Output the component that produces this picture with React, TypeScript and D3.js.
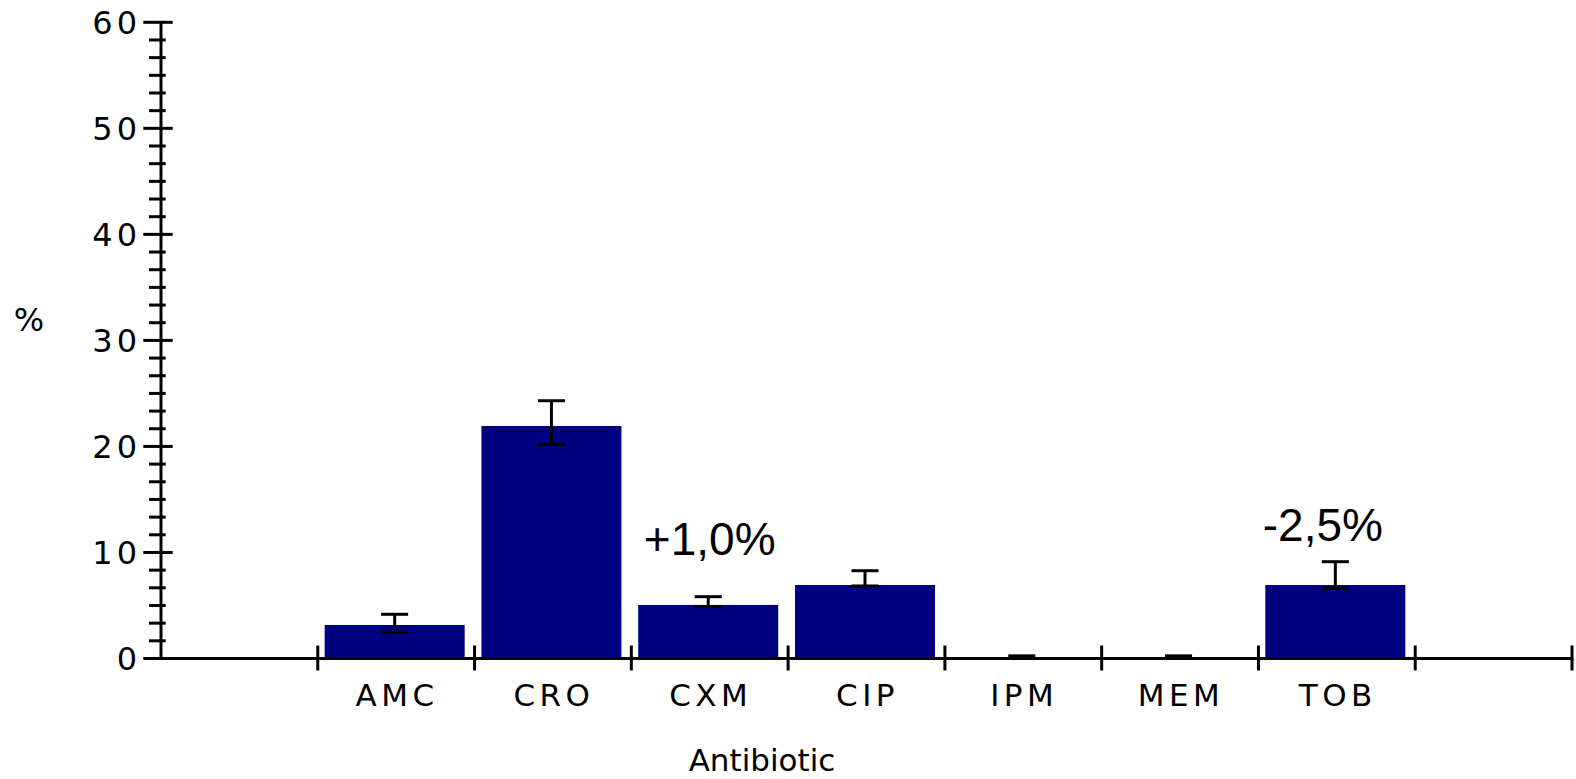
import React from "react";
import * as d3 from "d3";

const categories = ["AMC", "CRO", "CXM", "CIP", "IPM", "MEM", "TOB"];
const values = [3.16, 21.93, 5.05, 6.93, 0, 0, 6.93];
const ciLow = [2.47, 20.2, 4.89, 6.84, 0, 0, 6.62];
const ciHigh = [4.17, 24.31, 5.83, 8.28, 0.25, 0.25, 9.13];
const yMajorTicks = [0, 10, 20, 30, 40, 50, 60];
const annotations = [
  { cat: "CXM", text: "+1,0%", dx: 0, dy: 0 },
  { cat: "TOB", text: "-2,5%", dx: -14, dy: -14.5 },
];
const slotDomain = ["_pre", ...categories, "_post"];

const W = 1576;
const H = 779;
const plotLeft = 161;
const plotRight = 1572;
const yZero = 658.5;
const yTop = 22.3;
const NAVY = "#000080";
const axisFont = "'DejaVu Sans', sans-serif";

export default function App() {
  const x = d3.scaleBand<string>().domain(slotDomain).range([plotLeft, plotRight]).padding(0);
  const y = d3.scaleLinear().domain([0, 60]).range([yZero, yTop]);
  const bw = x.bandwidth();
  const barW = 140;
  const barX = (c: string) => (x(c) as number) + (bw - barW) / 2 - 1.5;
  const center = (c: string) => barX(c) + barW / 2;

  const minorTicks = d3.range(0, 60.001, 10 / 6).filter(
    (v) => !yMajorTicks.some((m) => Math.abs(m - v) < 1e-6)
  );
  const xTickPositions = d3.range(1, slotDomain.length + 1).map((i) => plotLeft + i * bw);

  return (
    <svg
      width={W}
      height={H}
      style={{ position: "absolute", left: 0, top: 0, background: "#fff" }}
    >
      {/* bars */}
      {categories.map((c, i) => {
        const v = values[i];
        if (v <= 0) return null;
        return (
          <rect
            key={c}
            x={barX(c)}
            y={y(v)}
            width={barW}
            height={y(0) - y(v)}
            fill={NAVY}
          />
        );
      })}
      {/* error bars */}
      {categories.map((c, i) => {
        const cx = center(c);
        const capHalf = 13.5;
        return (
          <g key={"e" + c} stroke="#000" strokeWidth={3}>
            <line x1={cx} x2={cx} y1={y(ciLow[i])} y2={y(ciHigh[i])} />
            <line x1={cx - capHalf} x2={cx + capHalf} y1={y(ciHigh[i])} y2={y(ciHigh[i])} />
            <line x1={cx - capHalf} x2={cx + capHalf} y1={y(ciLow[i])} y2={y(ciLow[i])} />
          </g>
        );
      })}
      {/* y axis */}
      <line x1={plotLeft} x2={plotLeft} y1={y(60)} y2={y(0)} stroke="#000" strokeWidth={3} />
      {yMajorTicks.map((t) => (
        <g key={"yt" + t}>
          <line x1={143.3} x2={172.7} y1={y(t)} y2={y(t)} stroke="#000" strokeWidth={3} />
          <text
            x={141}
            y={y(t) + 11.5}
            textAnchor="end"
            fontFamily={axisFont}
            fontSize={32}
            letterSpacing={4}
            fill="#000"
          >
            {t}
          </text>
        </g>
      ))}
      {minorTicks.map((t, i) => (
        <line key={"ym" + i} x1={149} x2={165.7} y1={y(t)} y2={y(t)} stroke="#000" strokeWidth={3} />
      ))}
      <text x={29} y={331} textAnchor="middle" fontFamily={axisFont} fontSize={32} fill="#000">
        %
      </text>
      {/* x axis */}
      <line x1={plotLeft - 1.5} x2={plotRight + 1.5} y1={y(0)} y2={y(0)} stroke="#000" strokeWidth={3} />
      {xTickPositions.map((px, i) => (
        <line key={"xt" + i} x1={px} x2={px} y1={y(0) - 13} y2={y(0) + 12} stroke="#000" strokeWidth={3} />
      ))}
      {categories.map((c) => (
        <text
          key={"xl" + c}
          x={(x(c) as number) + bw / 2 + 1}
          y={706}
          textAnchor="middle"
          fontFamily={axisFont}
          fontSize={31}
          letterSpacing={4.5}
          fill="#000"
        >
          {c}
        </text>
      ))}
      <text x={762} y={770.5} textAnchor="middle" fontFamily={axisFont} fontSize={31} fill="#000">
        Antibiotic
      </text>
      {/* annotations */}
      {annotations.map((a) => (
        <text
          key={a.text}
          x={(x(a.cat) as number) + bw / 2 + a.dx}
          y={555 + a.dy}
          textAnchor="middle"
          fontFamily="'Liberation Sans', Arial, sans-serif"
          fontSize={46}
          fill="#000"
        >
          {a.text}
        </text>
      ))}
    </svg>
  );
}
